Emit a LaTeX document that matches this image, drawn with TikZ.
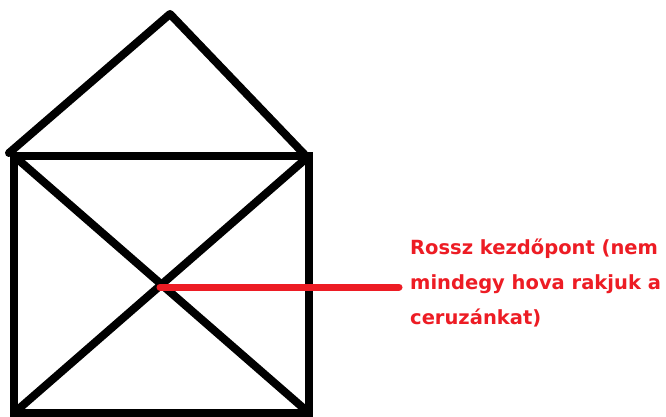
\documentclass[tikz,border=0pt]{standalone}
\usepackage{fontspec}
\setmainfont{DejaVu Sans}
\definecolor{paintred}{HTML}{ED1C24}
\begin{document}
\begin{tikzpicture}[x=1pt,y=-1pt,
  blackline/.style={draw=black,line width=8pt},
  redline/.style={draw=paintred,line width=7pt,line cap=round},
  note/.style={text=paintred,font=\bfseries\fontsize{19.5}{35}\selectfont,align=left,anchor=west,inner sep=0pt}]
\useasboundingbox[fill=white] (0,0) rectangle (666,417);
\coordinate (tl) at (14,156);
\coordinate (tr) at (309,156);
\coordinate (bl) at (14,413);
\coordinate (br) at (309,413);
\coordinate (apex) at (170,14);
\coordinate (rl) at (9,153);
\coordinate (rr) at (306,156);
\coordinate (mid) at (160,287);
\coordinate (redend) at (399,287);
\draw[blackline] (tl) rectangle (br);
\draw[blackline,line cap=round,line join=round] (rl) -- (apex) -- (rr);
\draw[blackline] (tl) -- (br);
\draw[blackline] (tr) -- (bl);
\draw[redline] (mid) -- (redend);
\node[note] (txt) at (410,283) {Rossz kezdőpont (nem\\mindegy hova rakjuk a\\ceruzánkat)};
\end{tikzpicture}
\end{document}
